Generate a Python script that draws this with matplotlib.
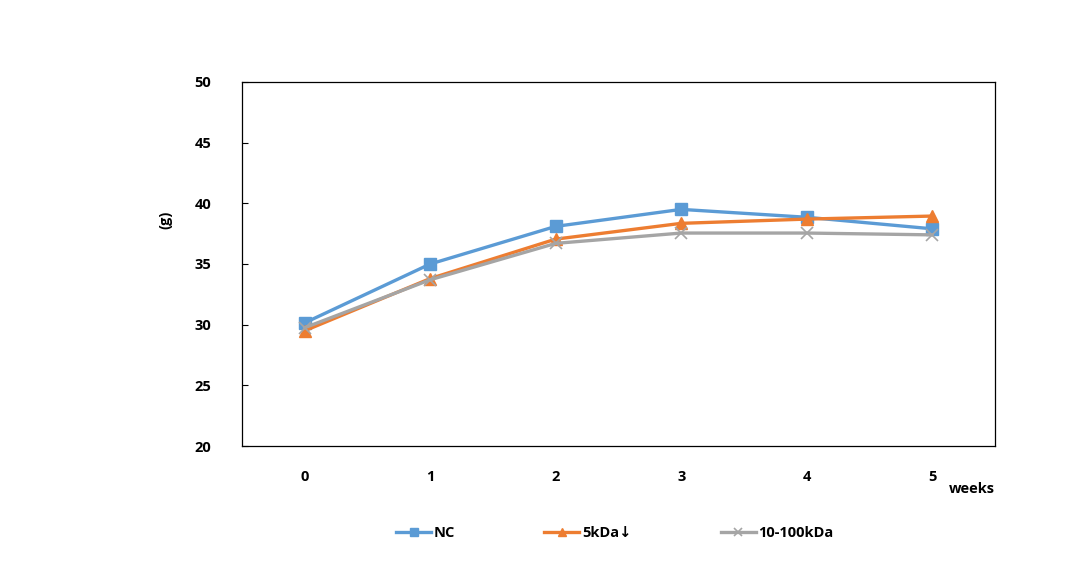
import matplotlib
matplotlib.use("Agg")
import matplotlib.pyplot as plt

weeks = [0, 1, 2, 3, 4, 5]
nc = [30.15, 35.0, 38.1, 39.5, 38.85, 37.9]
kda5 = [29.5, 33.8, 37.05, 38.35, 38.7, 38.95]
kda10_100 = [29.75, 33.7, 36.7, 37.55, 37.55, 37.4]
series_names = ["NC", "5kDa↓", "10-100kDa"]

plt.rcParams['font.family'] = ['Open Sans', 'DejaVu Sans']

fig = plt.figure(figsize=(10.88, 5.63), dpi=100)
ax = fig.add_axes([0.2224, 0.2078, 0.6921, 0.6466])

ax.plot(weeks, nc, color='#5B9BD5', lw=2.4, marker='s', ms=8, label=series_names[0])
ax.plot(weeks, kda5, color='#ED7D31', lw=2.4, marker='^', ms=8, label=series_names[1])
ax.plot(weeks, kda10_100, color='#A5A5A5', lw=2.4, marker='x', ms=9, mew=1.2, label=series_names[2])

ax.set_xlim(-0.5, 5.5)
ax.set_ylim(20, 50)
ax.set_yticks(range(20, 51, 5))
ax.set_xticks(weeks)
ax.tick_params(axis='y', direction='in', length=4, width=0.8, labelsize=10.5, pad=22)
ax.tick_params(axis='x', length=0, labelsize=10.5, pad=17)
for lbl in ax.get_xticklabels() + ax.get_yticklabels():
    lbl.set_fontweight('bold')
for s in ax.spines.values():
    s.set_color('black')
    s.set_linewidth(0.9)

fig.text(165 / 1088, 1 - 220 / 563, "(g)", rotation=90, ha='center', va='center',
         fontsize=10.5, fontweight='bold')
fig.text(972 / 1088, 1 - 489 / 563, "weeks", ha='center', va='center',
         fontsize=10.5, fontweight='bold')

fig.legend(loc='center', bbox_to_anchor=(615 / 1088, 1 - 533 / 563), ncol=3, frameon=False,
           prop={'weight': 'bold', 'size': 10.5}, columnspacing=6.1, handlelength=2.4,
           handletextpad=0.2, markerscale=0.7)

fig.savefig("out.png", dpi=100)
